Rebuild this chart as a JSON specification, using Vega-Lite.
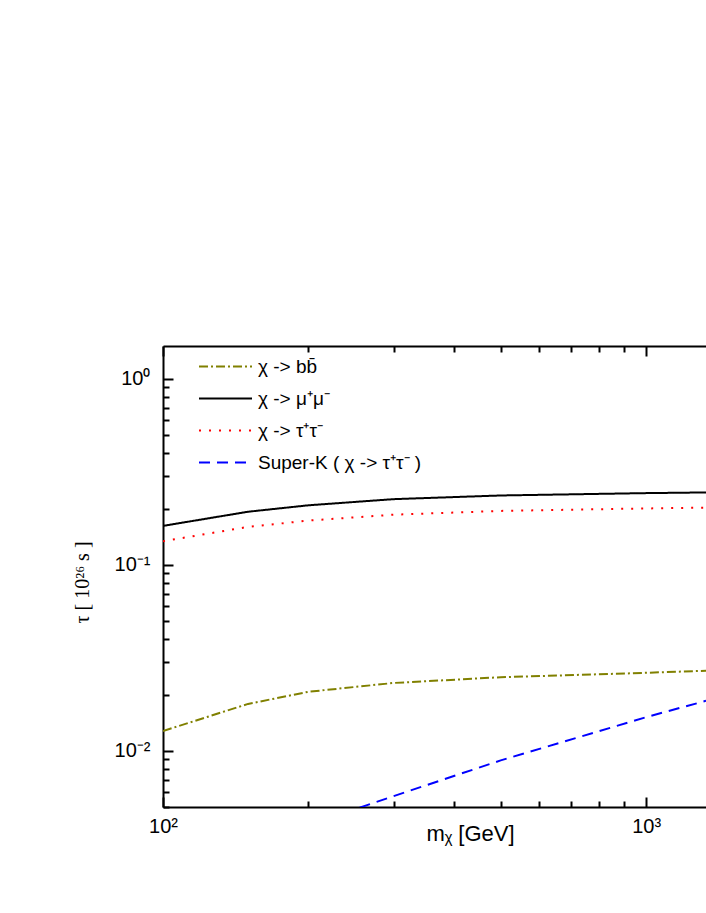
{
  "$schema": "https://vega.github.io/schema/vega-lite/v6.json",
  "width": 543,
  "height": 461,
  "autosize": {"type": "none"},
  "padding": {"left": 163, "top": 346, "right": 0, "bottom": 106},
  "background": "white",
  "config": {"view": {"stroke": null}, "font": "Liberation Sans"},
  "data": {
    "values": [
      {"series": "χ -> bb̄", "mass": 100, "tau": 0.0128},
      {"series": "χ -> bb̄", "mass": 150, "tau": 0.0179},
      {"series": "χ -> bb̄", "mass": 200, "tau": 0.0208},
      {"series": "χ -> bb̄", "mass": 300, "tau": 0.0232},
      {"series": "χ -> bb̄", "mass": 500, "tau": 0.0249},
      {"series": "χ -> bb̄", "mass": 1000, "tau": 0.0263},
      {"series": "χ -> bb̄", "mass": 1330, "tau": 0.0270},
      {"series": "χ -> μ⁺μ⁻", "mass": 100, "tau": 0.162},
      {"series": "χ -> μ⁺μ⁻", "mass": 150, "tau": 0.193},
      {"series": "χ -> μ⁺μ⁻", "mass": 200, "tau": 0.209},
      {"series": "χ -> μ⁺μ⁻", "mass": 300, "tau": 0.2255},
      {"series": "χ -> μ⁺μ⁻", "mass": 500, "tau": 0.236},
      {"series": "χ -> μ⁺μ⁻", "mass": 1000, "tau": 0.243},
      {"series": "χ -> μ⁺μ⁻", "mass": 1330, "tau": 0.245},
      {"series": "χ -> τ⁺τ⁻", "mass": 100, "tau": 0.134},
      {"series": "χ -> τ⁺τ⁻", "mass": 150, "tau": 0.160},
      {"series": "χ -> τ⁺τ⁻", "mass": 200, "tau": 0.173},
      {"series": "χ -> τ⁺τ⁻", "mass": 300, "tau": 0.186},
      {"series": "χ -> τ⁺τ⁻", "mass": 500, "tau": 0.195},
      {"series": "χ -> τ⁺τ⁻", "mass": 1000, "tau": 0.201},
      {"series": "χ -> τ⁺τ⁻", "mass": 1330, "tau": 0.203},
      {"series": "Super-K ( χ -> τ⁺τ⁻ )", "mass": 200, "tau": 0.0040},
      {"series": "Super-K ( χ -> τ⁺τ⁻ )", "mass": 300, "tau": 0.00572},
      {"series": "Super-K ( χ -> τ⁺τ⁻ )", "mass": 500, "tau": 0.0089},
      {"series": "Super-K ( χ -> τ⁺τ⁻ )", "mass": 1000, "tau": 0.0152},
      {"series": "Super-K ( χ -> τ⁺τ⁻ )", "mass": 1330, "tau": 0.0186}
    ]
  },
  "resolve": {"axis": {"x": "independent"}},
  "layer": [
    {
      "mark": {"type": "line", "strokeWidth": 2, "clip": true, "strokeCap": "butt"},
      "encoding": {
        "x": {
          "field": "mass", "type": "quantitative",
          "scale": {"type": "log", "domain": [100, 1330], "nice": false},
          "axis": {
            "orient": "bottom",
            "values": [100, 200, 300, 400, 500, 600, 700, 800, 900, 1000],
            "labelExpr": "datum.value == 100 ? '10²' : datum.value == 1000 ? '10³' : ''",
            "tickSize": {"condition": {"test": "datum.value == 100 || datum.value == 1000", "value": -10}, "value": -6},
            "tickWidth": 2, "tickColor": "black",
            "domainColor": "black", "domainWidth": 2,
            "labelFontSize": 20, "labelColor": "black", "labelPadding": 19,
            "labelFlush": false, "labelOverlap": false, "grid": false,
            "title": "mᵪ [GeV]", "titleFontSize": 22, "titleFontWeight": "normal", "titleColor": "black",
            "titleX": 307, "titleY": 16
          }
        },
        "y": {
          "field": "tau", "type": "quantitative",
          "scale": {"type": "log", "domain": [0.005, 1.5], "nice": false},
          "axis": {
            "orient": "left",
            "values": [0.005, 0.006, 0.007, 0.008, 0.009, 0.01, 0.02, 0.03, 0.04, 0.05, 0.06, 0.07, 0.08, 0.09, 0.1, 0.2, 0.3, 0.4, 0.5, 0.6, 0.7, 0.8, 0.9, 1],
            "labelExpr": "datum.value == 1 ? '10⁰' : datum.value == 0.1 ? '10⁻¹' : datum.value == 0.01 ? '10⁻²' : ''",
            "tickSize": {"condition": {"test": "datum.value == 1 || datum.value == 0.1 || datum.value == 0.01", "value": -10}, "value": -6},
            "tickWidth": 2, "tickColor": "black",
            "domainColor": "black", "domainWidth": 2,
            "labelFontSize": 20, "labelColor": "black", "labelPadding": 23,
            "labelFlush": false, "labelOverlap": false, "grid": false,
            "title": "τ  [ 10²⁶  s ]", "titleFont": "Liberation Serif", "titleFontSize": 20, "titleFontWeight": "normal", "titleColor": "black",
            "titleX": -71, "titleY": 236
          }
        },
        "color": {
          "field": "series", "type": "nominal",
          "scale": {
            "domain": ["χ -> bb̄", "χ -> μ⁺μ⁻", "χ -> τ⁺τ⁻", "Super-K ( χ -> τ⁺τ⁻ )"],
            "range": ["#808000", "#000000", "#ff0000", "#0000ff"]
          },
          "legend": {
            "orient": "none", "legendX": 48, "legendY": 6, "title": null,
            "symbolType": "M-2,0H2", "symbolSize": 702, "symbolStrokeWidth": 2,
            "labelFontSize": 19, "labelColor": "black", "labelOffset": 18, "labelLimit": 400,
            "rowPadding": 7
          }
        },
        "strokeDash": {
          "field": "series", "type": "nominal",
          "scale": {
            "domain": ["χ -> bb̄", "χ -> μ⁺μ⁻", "χ -> τ⁺τ⁻", "Super-K ( χ -> τ⁺τ⁻ )"],
            "range": [[9, 3, 2, 3], [1, 0], [2, 8], [11, 7]]
          },
          "legend": {
            "orient": "none", "legendX": 48, "legendY": 6, "title": null,
            "symbolType": "M-2,0H2", "symbolSize": 702, "symbolStrokeWidth": 2,
            "labelFontSize": 19, "labelColor": "black", "labelOffset": 18, "labelLimit": 400,
            "rowPadding": 7
          }
        }
      }
    },
    {
      "mark": {"type": "line", "opacity": 0, "clip": true},
      "encoding": {
        "x": {
          "field": "mass", "type": "quantitative",
          "axis": {
            "orient": "top",
            "values": [100, 200, 300, 400, 500, 600, 700, 800, 900, 1000],
            "labels": false, "title": null, "grid": false,
            "tickSize": {"condition": {"test": "datum.value == 100 || datum.value == 1000", "value": -10}, "value": -6},
            "tickWidth": 2, "tickColor": "black",
            "domainColor": "black", "domainWidth": 2
          }
        },
        "y": {"field": "tau", "type": "quantitative"},
        "detail": {"field": "series", "type": "nominal"}
      }
    }
  ]
}
